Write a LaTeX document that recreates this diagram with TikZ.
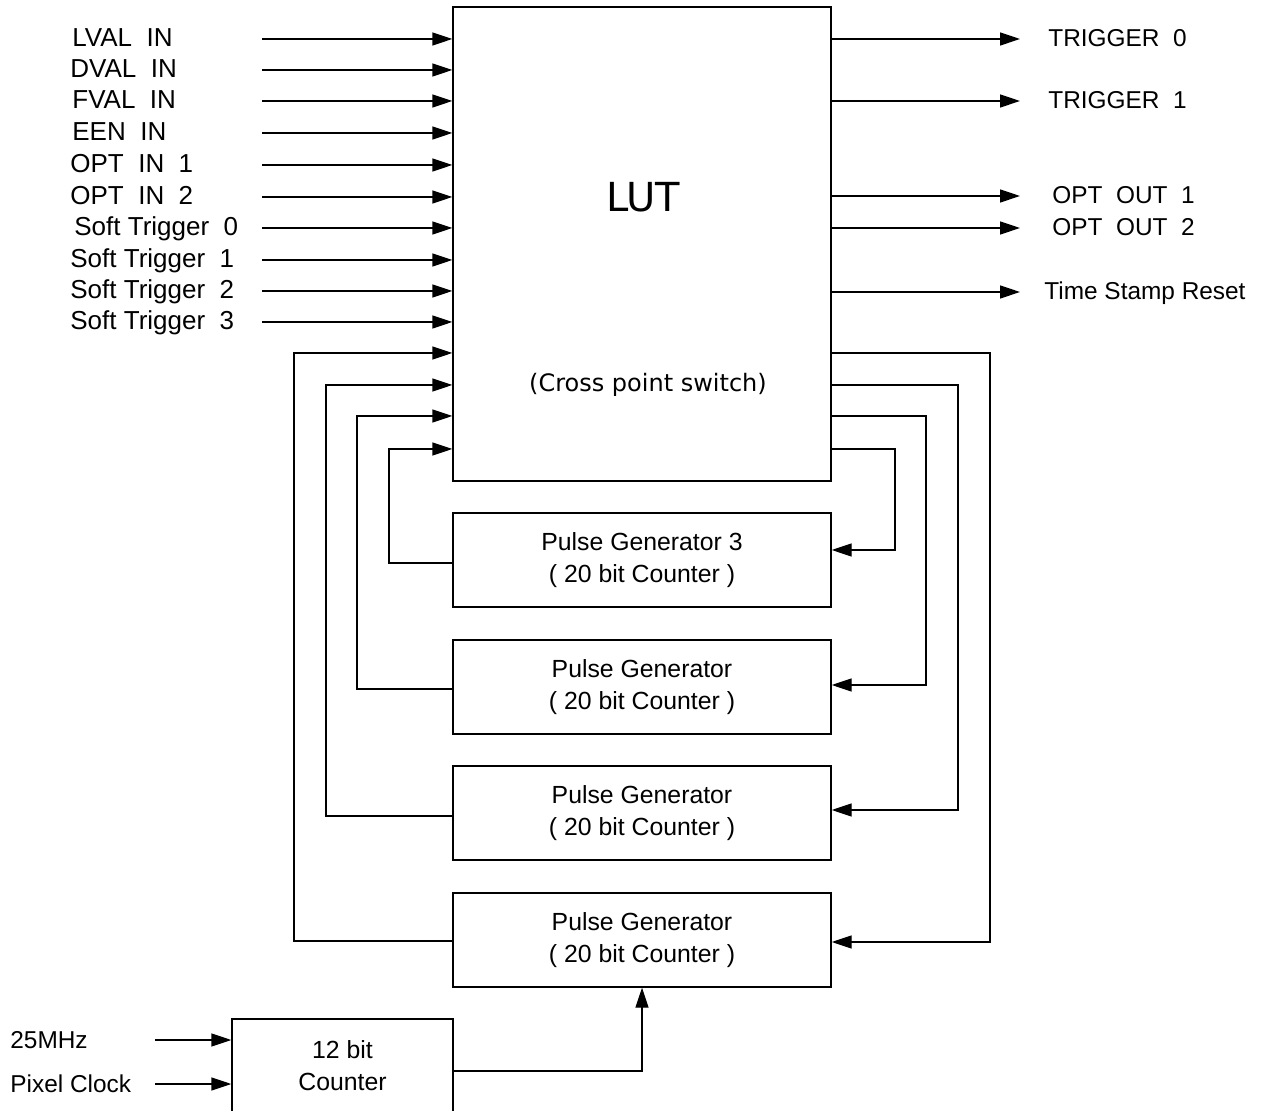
\documentclass[tikz,border=0pt]{standalone}
\usepackage{fontspec}
\setmainfont{Liberation Sans}
\newfontfamily\lutfont{DejaVu Sans}
\usetikzlibrary{arrows.meta,positioning}

\tikzset{
  sig/.style={line width=0.7pt, -{Triangle[length=10pt,width=6.5pt]}},
  blk/.style={draw, line width=0.7pt, rectangle, minimum width=189pt, minimum height=47pt,
    align=center, font=\fontsize{12.4}{16}\selectfont},
  sigtext/.style={anchor=base west, inner sep=0pt, font=\fontsize{12.2}{14}\selectfont},
  intext/.style={sigtext, font=\fontsize{13}{15}\selectfont},
}

\begin{document}
\begin{tikzpicture}[x=0.5pt, y=-0.5pt]
    \useasboundingbox (0,0) rectangle (1264,1111);
    \clip (0,0) rectangle (1264,1111);
    % lookup table
    \node[draw, line width=0.7pt, minimum width=189pt, minimum height=237pt] (lut) at (642,244) {};
    \node[font=\lutfont\fontsize{20}{24}\selectfont] (luttitle) at (643,197) {LUT};
    \node[font=\lutfont\fontsize{12}{14}\selectfont] (lutsub) at (648,385) {(Cross point switch)};
    % inputs
    \foreach \lbl/\xx/\yy [count=\i] in {LVAL~~IN/72/39, DVAL~~IN/70/70, FVAL~~IN/72/101,
        EEN~~IN/72/133, OPT~~IN~~1/70/165, OPT~~IN~~2/70/197, Soft Trigger~~0/74/228,
        Soft Trigger~~1/70/260, Soft Trigger~~2/70/291, Soft Trigger~~3/70/322} {
        \node[intext] (in\i) at (\xx,\yy+8) {\lbl};
        \coordinate (src\i) at (262,\yy);
        \draw[sig] (src\i) -- (src\i -| lut.west);
    }
    % outputs
    \foreach \lbl/\xx/\yy [count=\i] in {TRIGGER~~0/1048/39, TRIGGER~~1/1048/101,
        OPT~~OUT~~1/1052/196, OPT~~OUT~~2/1052/228, Time Stamp Reset/1044/292} {
        \coordinate (dst\i) at (1020,\yy);
        \draw[sig] (dst\i -| lut.east) -- (dst\i);
        \node[sigtext] (out\i) at (\xx,\yy+8) {\lbl};
    }
    % pulse generators
    \node[blk] (pg3) at (642,560) {Pulse Generator 3\\( 20 bit Counter )};
    \node[blk] (pg2) at (642,687) {Pulse Generator\\( 20 bit Counter )};
    \node[blk] (pg1) at (642,813) {Pulse Generator\\( 20 bit Counter )};
    \node[blk] (pg0) at (642,940) {Pulse Generator\\( 20 bit Counter )};
    \foreach \pg/\yin/\xl/\yl/\xr/\yr in {3/449/389/563/895/550, 2/416/357/689/926/685,
        1/385/326/816/958/810, 0/353/294/941/990/942} {
        \draw[sig] (pg\pg.west |- 0,\yl) -| (\xl,\yin) -- (lut.west |- 0,\yin);
        \draw[sig] (lut.east |- 0,\yin) -| (\xr,\yr) -- (pg\pg.east |- 0,\yr);
    }
    % clock counter
    \node[blk, minimum width=110.5pt] (cnt) at (342.5,1066) {12 bit\\Counter};
    \node[sigtext] (clk25) at (10,1048) {25MHz};
    \node[sigtext] (pxclk) at (10,1092) {Pixel Clock};
    \coordinate (c25) at (155,1040);
    \coordinate (cpx) at (155,1084);
    \draw[sig] (c25) -- (c25 -| cnt.west);
    \draw[sig] (cpx) -- (cpx -| cnt.west);
    \draw[sig] (cnt.east |- 0,1071) -| (pg0.south);
\end{tikzpicture}
\end{document}
